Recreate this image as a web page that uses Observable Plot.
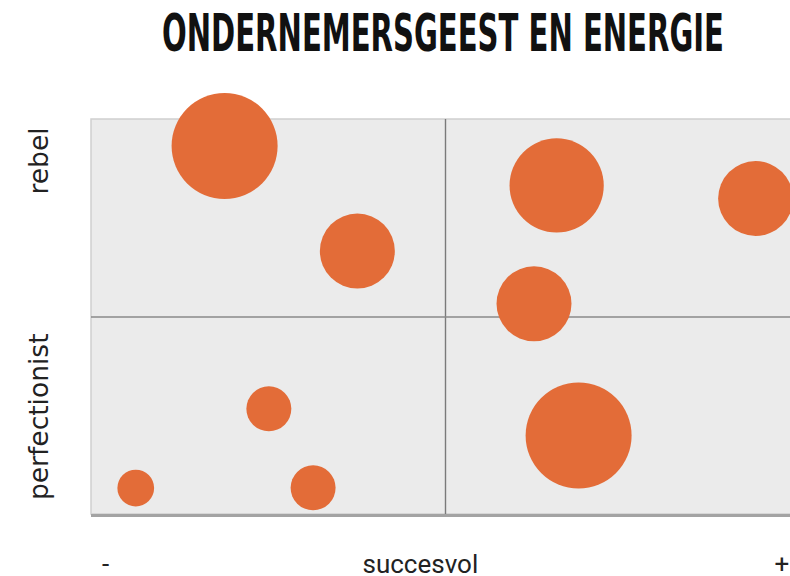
<!DOCTYPE html>
<html>
<head>
<meta charset="utf-8">
<script src="https://cdn.jsdelivr.net/npm/d3@7"></script>
<script src="https://cdn.jsdelivr.net/npm/@observablehq/plot@0.6"></script>
<style>
  html, body { margin: 0; padding: 0; background: #fff; overflow: hidden; }
  #chart { width: 790px; height: 576px; }
</style>
</head>
<body>
<div id="chart"></div>
<script>
// ---- data ----
const title = "ONDERNEMERSGEEST EN ENERGIE";
const succesvol = [-6.24, -2.49, 3.14, 8.76, 2.5, -4.99, 3.76, -8.75, -3.74];   // x: - ... +
const rebelScore = [8.66, 3.34, 6.66, 6.0, 0.67, -4.65, -6.0, -8.66, -8.65];    // y: perfectionist ... rebel
const energie = [100, 50, 79, 50, 50, 18, 100, 12, 18];                          // bubble size
const yLabels = ["rebel", "perfectionist"];
const xLabels = ["-", "succesvol", "+"];

const points = succesvol.map((x, i) => ({x, y: rebelScore[i], r: energie[i]}));

const chart = Plot.plot({
  width: 790,
  height: 576,
  marginLeft: 91,
  marginRight: 0,
  marginTop: 119,
  marginBottom: 62,
  style: {background: "#fff", overflow: "visible"},
  x: {domain: [-10, 10], range: [91, 799], axis: null},
  y: {domain: [-10, 10], range: [514, 119], axis: null},
  r: {type: "sqrt", domain: [0, 100], range: [0, 53]},
  marks: [
    Plot.rect([0], {x1: -10, x2: 10, y1: -10, y2: 10, fill: "#ebebeb", stroke: "#cfcfcf", strokeWidth: 1.5}),
    Plot.ruleY([-10], {x1: -10, x2: 10, stroke: "#a3a3a3", strokeWidth: 3, dy: 1}),
    Plot.ruleX([0], {y1: -10, y2: 10, stroke: "#7a7a7a", strokeWidth: 1.4}),
    Plot.ruleY([0], {x1: -10, x2: 10, stroke: "#8a8a8a", strokeWidth: 1.4}),
    Plot.dot(points, {x: "x", y: "y", r: "r", fill: "#e36c38", stroke: null}),
    Plot.text([title], {
      text: d => d, frameAnchor: "top", dy: -69, dx: 2, lineAnchor: "bottom",
      fontFamily: "'Liberation Sans Narrow', 'DejaVu Sans', sans-serif", fontWeight: "bold",
      fontSize: 52, fill: "#111"
    }),
    Plot.text(yLabels, {
      text: d => d, frameAnchor: "left", dx: -44,
      y: (d, i) => [7.9, -5.05][i],
      rotate: -90, textAnchor: "middle", lineAnchor: "bottom",
      fontFamily: "'DejaVu Sans', sans-serif", fontSize: 26.5, fill: "#222"
    }),
    Plot.text(xLabels, {
      text: d => d, frameAnchor: "bottom", dy: 58,
      x: (d, i) => [-9.6, -0.71, 9.5][i],
      textAnchor: "middle", lineAnchor: "bottom",
      fontFamily: "Roboto, sans-serif", fontSize: 26, fill: "#222"
    })
  ]
});

document.getElementById("chart").appendChild(chart);

// squeeze title to the condensed width of the original
d3.select(chart).selectAll("text").filter(function() { return this.textContent === title; })
  .attr("textLength", 562).attr("lengthAdjust", "spacingAndGlyphs");
</script>
</body>
</html>
